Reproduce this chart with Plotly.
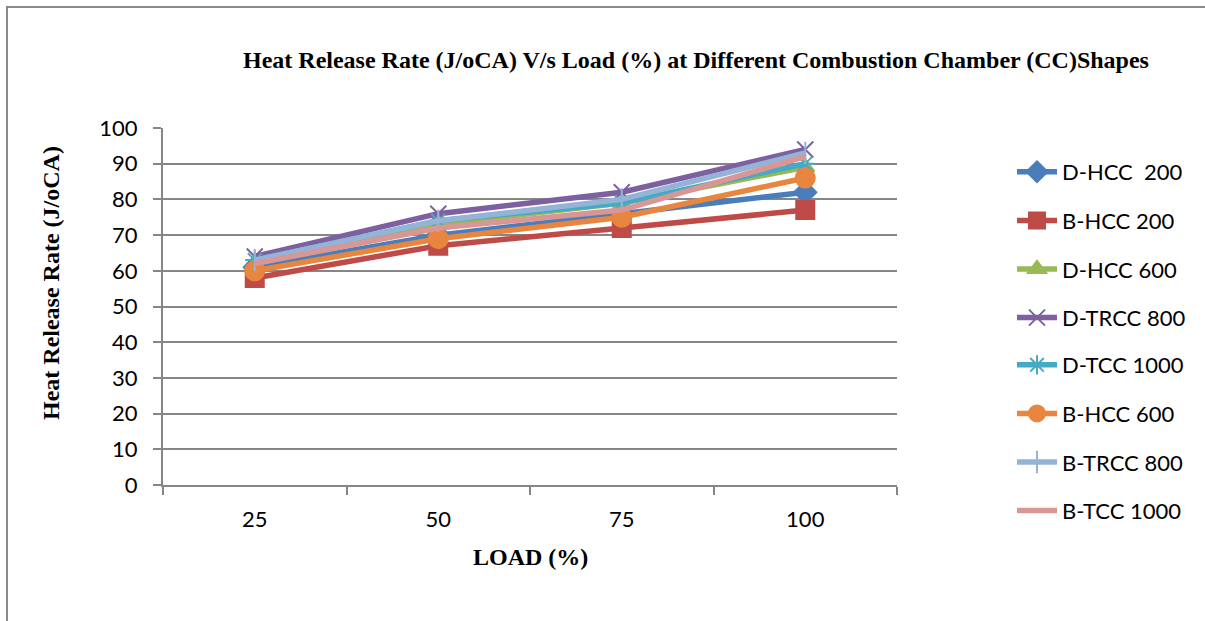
import plotly.graph_objects as go

loads = ["25", "50", "75", "100"]

d_hcc_200 = [61, 70, 76, 82]
b_hcc_200 = [58, 67, 72, 77]
d_hcc_600 = [62, 73, 79, 89]
d_trcc_800 = [64, 76, 82, 94]
d_tcc_1000 = [63, 74, 79, 90]
b_hcc_600 = [60, 69, 75, 86]
b_trcc_800 = [63, 74, 80, 93]
b_tcc_1000 = [62, 72, 77, 92]

series = [
    ("D-HCC\u00a0\u00a0200", d_hcc_200, "#4A7EBB", "diamond", 17),
    ("B-HCC 200", b_hcc_200, "#BE4B48", "square", 18),
    ("D-HCC 600", d_hcc_600, "#98B954", "triangle-up", 16),
    ("D-TRCC 800", d_trcc_800, "#7D60A0", "x-thin-open", 16),
    ("D-TCC 1000", d_tcc_1000, "#46AAC5", "asterisk-open", 16),
    ("B-HCC 600", b_hcc_600, "#E8853E", "circle", 19),
    ("B-TRCC 800", b_trcc_800, "#95B3D7", "line-ns-open", 16),
    ("B-TCC 1000", b_tcc_1000, "#D99694", None, 0),
]

fig = go.Figure()
for i, (name, vals, color, sym, size) in enumerate(series):
    if sym:
        marker = dict(symbol=sym, size=size, color=color,
                      line=dict(color=color, width=2))
        mode = "lines+markers"
    else:
        marker = None
        mode = "lines"
    fig.add_trace(go.Scatter(
        x=loads, y=vals, name=name, mode=mode,
        line=dict(color=color, width=5.5),
        marker=marker, legendgroup=f"g{i}",
        legend="legend" if i < 4 else "legend2",
    ))

W, H = 1205, 621
L, R, T, B = 163, 897, 128, 485
pw, ph = R - L, B - T

def px(x):
    return (x - L) / pw

def py(y):
    return (B - y) / ph

legend_common = dict(
    xanchor="left", yanchor="top",
    font=dict(family="Lato", size=22, color="black"),
    tracegroupgap=17, itemwidth=40,
    bgcolor="rgba(0,0,0,0)",
)

fig.update_layout(
    width=W, height=H,
    margin=dict(l=L, r=W - R, t=T, b=H - B),
    paper_bgcolor="white", plot_bgcolor="white",
    showlegend=True,
    legend=dict(x=px(1012), y=py(151), **legend_common),
    legend2=dict(x=px(1012), y=py(344), **legend_common),
    xaxis=dict(
        type="category", tickson="boundaries", range=[-0.5, 3.5],
        showline=True, linecolor="#868686", linewidth=2,
        ticks="outside", ticklen=8, tickcolor="#868686", tickwidth=2,
        showgrid=False, zeroline=False, ticklabelstandoff=14,
        tickfont=dict(family="Lato", size=22, color="black"),
    ),
    yaxis=dict(
        range=[0, 100], dtick=10,
        showline=True, linecolor="#868686", linewidth=2,
        ticks="outside", ticklen=8, tickcolor="#868686", tickwidth=2,
        showgrid=True, gridcolor="#868686", gridwidth=2,
        zeroline=False, ticklabelstandoff=11,
        tickfont=dict(family="Lato", size=22, color="black"),
    ),
    annotations=[
        dict(text="<b>Heat Release Rate (J/oCA) V/s Load (%) at Different Combustion Chamber (CC)Shapes</b>",
             xref="paper", yref="paper", x=px(696), y=py(60),
             xanchor="center", yanchor="middle", showarrow=False,
             font=dict(family="Liberation Serif", size=24, color="black")),
        dict(text="<b>LOAD (%)</b>",
             xref="paper", yref="paper", x=px(530), y=py(557),
             xanchor="center", yanchor="middle", showarrow=False,
             font=dict(family="Liberation Serif", size=24, color="black")),
        dict(text="<b>Heat Release Rate (J/oCA)</b>",
             xref="paper", yref="paper", x=px(51), y=py(283),
             xanchor="center", yanchor="middle", showarrow=False, textangle=-90,
             font=dict(family="Liberation Serif", size=24, color="black")),
    ],
    shapes=[
        dict(type="rect", xref="paper", yref="paper",
             x0=px(7), x1=px(W + 20), y0=py(H + 20), y1=py(7),
             line=dict(color="#898989", width=2), fillcolor="rgba(0,0,0,0)", layer="below"),
    ],
)

fig.write_html("out.html")
